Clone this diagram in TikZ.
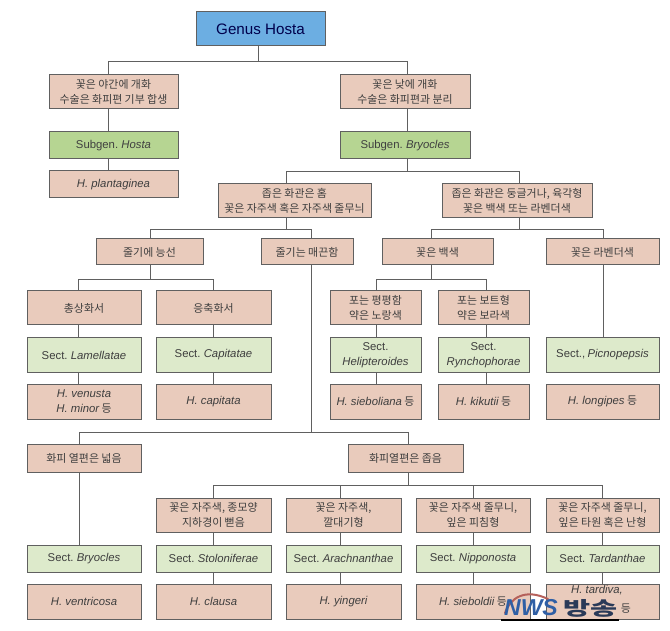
\documentclass[tikz,border=0pt]{standalone}
\usepackage{fontspec}
\setmainfont{Noto Sans CJK KR}
\newfontfamily\latf{Liberation Sans}[Scale=1.04]
\newfontfamily\wmlat{Liberation Sans}
\newcommand{\sci}[1]{{\latf\itshape #1}}
\newcommand{\lat}[1]{{\latf #1}}
\definecolor{edgec}{HTML}{606060}
\definecolor{pinkc}{HTML}{E9CBBC}
\definecolor{greenA}{HTML}{B6D592}
\definecolor{greenB}{HTML}{DDEACB}
\definecolor{blueA}{HTML}{6CAEE2}
\definecolor{txtc}{HTML}{3E3E3E}
\definecolor{wmblue}{HTML}{2F5FA5}
\definecolor{wmnavy}{HTML}{2A3A58}
\definecolor{wmred}{HTML}{B5605A}
\tikzset{
  boxbase/.style={draw=edgec,line width=1pt,align=center,inner sep=0pt,text=txtc,font=\fontsize{10.9}{14.5}\selectfont},
  pink/.style={boxbase,fill=pinkc},
  dgreen/.style={boxbase,fill=greenA,text=black!75},
  lgreen/.style={boxbase,fill=greenB},
  top/.style={boxbase,fill=blueA,text=blue!30!black,font=\fontsize{14.6}{18}\selectfont\latf},
  link/.style={draw=edgec,line width=0.9pt}
}
\newcommand{\bx}[7][]{%
  \pgfmathsetmacro{\mx}{(#4+#5)/2}\pgfmathsetmacro{\my}{(#6+#7)/2}%
  \pgfmathsetmacro{\mw}{#5-#4}\pgfmathsetmacro{\mh}{#7-#6}%
  \node[#1,minimum width=\mw pt,minimum height=\mh pt] (#2) at (\mx,\my) {#3};}
\newcommand{\fork}[4]{%
  \coordinate (j#1) at (#2,#3);
  \draw[link] (#1.south -| j#1) -- (j#1);
  \foreach \cn/\px in {#4}{\draw[link] (\cn.north -| \px,0) |- (j#1);}}
\newcommand{\lnk}[3]{\draw[link] (#1.south -| #3,0) -- (#2.north -| #3,0);}
\begin{document}
\begin{tikzpicture}[x=1pt,y=-1pt]
\useasboundingbox (0,0) rectangle (670,631);
\bx[top]{genus}{Genus Hosta}{196}{325}{12}{46}
\bx[pink]{night}{꽃은 야간에 개화\\수술은 화피편 기부 합생}{49}{178}{75}{109}
\bx[pink]{day}{꽃은 낮에 개화\\수술은 화피편과 분리}{340}{470}{75}{109}
\bx[dgreen]{sghosta}{\lat{Subgen.} \sci{Hosta}}{49}{178}{132}{159}
\bx[dgreen]{sgbry}{\lat{Subgen.} \sci{Bryocles}}{340}{470}{132}{159}
\bx[pink]{plant}{\sci{H. plantaginea}}{49}{178}{171}{198}
\bx[pink]{narrow}{좁은 화관은 홈\\꽃은 자주색 혹은 자주색 줄무늬}{218}{371}{184}{218}
\bx[pink]{round}{좁은 화관은 둥글거나, 육각형\\꽃은 백색 또는 라벤더색}{442}{592}{184}{218}
\bx[pink]{ridge}{줄기에 능선}{96}{203}{239}{265}
\bx[pink]{smooth}{줄기는 매끈함}{261}{353}{239}{265}
\bx[pink]{white}{꽃은 백색}{382}{493}{239}{265}
\bx[pink]{lav}{꽃은 라벤더색}{546}{659}{239}{265}
\bx[pink]{race}{총상화서}{27}{141}{291}{325}
\bx[pink]{head}{응축화서}{156}{271}{291}{325}
\bx[pink]{flat}{포는 평평함\\약은 노랑색}{330}{421}{291}{325}
\bx[pink]{boat}{포는 보트형\\약은 보라색}{438}{529}{291}{325}
\bx[lgreen]{lam}{\lat{Sect.} \sci{Lamellatae}}{27}{141}{338}{372}
\bx[lgreen]{cap}{\lat{Sect.} \sci{Capitatae}}{156}{271}{338}{372}
\bx[lgreen]{heli}{\lat{Sect.}\\\sci{Helipteroides}}{330}{421}{338}{372}
\bx[lgreen]{ryn}{\lat{Sect.}\\\sci{Rynchophorae}}{438}{529}{338}{372}
\bx[lgreen]{pic}{\lat{Sect.,} \sci{Picnopepsis}}{546}{659}{338}{372}
\bx[pink]{ven}{\sci{H. venusta}\\\sci{H. minor} 등}{27}{141}{384}{419}
\bx[pink]{hcap}{\sci{H. capitata}}{156}{271}{384}{419}
\bx[pink]{sieb}{\sci{H. sieboliana} 등}{330}{421}{384}{419}
\bx[pink]{kik}{\sci{H. kikutii} 등}{438}{529}{384}{419}
\bx[pink]{long}{\sci{H. longipes} 등}{546}{659}{384}{419}
\bx[pink]{wide}{화피 열편은 넓음}{27}{141}{444}{472}
\bx[pink]{slim}{화피열편은 좁음}{348}{463}{444}{472}
\bx[pink]{bell}{꽃은 자주색, 종모양\\지하경이 뻗음}{156}{271}{498}{532}
\bx[pink]{funnel}{꽃은 자주색,\\깔대기형}{286}{401}{498}{532}
\bx[pink]{lance}{꽃은 자주색 줄무니,\\잎은 피침형}{416}{530}{498}{532}
\bx[pink]{oval}{꽃은 자주색 줄무니,\\잎은 타원 혹은 난형}{546}{659}{498}{532}
\bx[lgreen]{sbry}{\lat{Sect.} \sci{Bryocles}}{27}{141}{545}{572}
\bx[lgreen]{sto}{\lat{Sect.} \sci{Stoloniferae}}{156}{271}{545}{572}
\bx[lgreen]{ara}{\lat{Sect.} \sci{Arachnanthae}}{286}{401}{545}{572}
\bx[lgreen]{nip}{\lat{Sect.} \sci{Nipponosta}}{416}{530}{545}{572}
\bx[lgreen]{tar}{\lat{Sect.} \sci{Tardanthae}}{546}{659}{545}{572}
\bx[pink]{vent}{\sci{H. ventricosa}}{27}{141}{584}{619}
\bx[pink]{cla}{\sci{H. clausa}}{156}{271}{584}{619}
\bx[pink]{yin}{\sci{H. yingeri}}{286}{401}{584}{619}
\bx[pink]{sbd}{\sci{H. sieboldii} 등}{416}{530}{584}{619}
\node[pink,minimum width=113pt,minimum height=35pt] (tard) at (602.5,601.5) {};
\node[inner sep=0pt,text=txtc,font=\fontsize{10.9}{13}\selectfont] (tardA) at (597,590.5) {\sci{H. tardiva,}};
\node[inner sep=0pt,text=txtc,font=\fontsize{10.9}{13}\selectfont] (tardB) at (626,609) {등};
% connectors
\fork{genus}{258}{61}{night/108,day/407}
\lnk{night}{sghosta}{108}
\lnk{sghosta}{plant}{108}
\lnk{day}{sgbry}{407}
\fork{sgbry}{407}{171}{narrow/286,round/519}
\fork{narrow}{286}{229}{ridge/150,smooth/311}
\fork{round}{519}{229}{white/431,lav/603}
\fork{ridge}{150}{279}{race/78.5,head/213}
\fork{white}{431}{279}{flat/376,boat/486}
\lnk{race}{lam}{78.5}
\lnk{lam}{ven}{78.5}
\lnk{head}{cap}{213}
\lnk{cap}{hcap}{213}
\lnk{flat}{heli}{376}
\lnk{heli}{sieb}{376}
\lnk{boat}{ryn}{486}
\lnk{ryn}{kik}{486}
\lnk{lav}{pic}{603}
\fork{smooth}{311}{432}{wide/79,slim/408}
\lnk{wide}{sbry}{79}
\fork{slim}{408}{485}{bell/213,funnel/340,lance/473,oval/602}
\lnk{bell}{sto}{213}
\lnk{sto}{cla}{213}
\lnk{funnel}{ara}{340}
\lnk{ara}{yin}{340}
\lnk{lance}{nip}{473}
\lnk{nip}{sbd}{473}
\lnk{oval}{tar}{602}
\lnk{tar}{tard}{602}
% watermark
\fill[white] (530.6,584) rectangle (545.4,619);
\draw[black,line width=2pt] (501,620) -- (619,620);
\draw[wmred,line width=2pt,line cap=round] (505,613) .. controls (510,598) and (525,588) .. (548,599);
\node[inner sep=0pt,text=wmblue,font=\fontsize{23}{23}\selectfont\wmlat\bfseries\itshape] (wmnws) at (531,608) {NWS};
\node[inner sep=0pt,text=wmnavy,font=\fontsize{19}{19}\selectfont\bfseries] (wmkr) at (590.5,608) {\scalebox{1.55}[1]{방송}};
\end{tikzpicture}
\end{document}
